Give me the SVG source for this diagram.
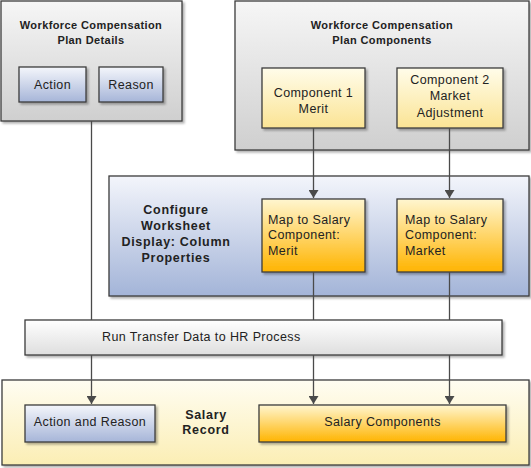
<svg xmlns="http://www.w3.org/2000/svg" width="531" height="468" viewBox="0 0 531 468">
<defs>
<linearGradient id="gGray" x1="0" y1="0" x2="0" y2="1"><stop offset="0" stop-color="#f6f6f6"/><stop offset="1" stop-color="#cfcfcf"/></linearGradient>
<linearGradient id="gBlue" x1="0" y1="0" x2="0" y2="1"><stop offset="0" stop-color="#f4f6fb"/><stop offset="1" stop-color="#a6b5d8"/></linearGradient>
<linearGradient id="gBlueBig" x1="0" y1="0" x2="0" y2="1"><stop offset="0" stop-color="#f3f5fb"/><stop offset="1" stop-color="#a3b4d8"/></linearGradient>
<linearGradient id="gLtYellow" x1="0" y1="0" x2="0" y2="1"><stop offset="0" stop-color="#fffcea"/><stop offset="1" stop-color="#fbe494"/></linearGradient>
<linearGradient id="gOrange" x1="0" y1="0" x2="0" y2="1"><stop offset="0" stop-color="#fff6d0"/><stop offset="1" stop-color="#ffb400"/></linearGradient>
<linearGradient id="gWhite" x1="0" y1="0" x2="0" y2="1"><stop offset="0" stop-color="#ffffff"/><stop offset="1" stop-color="#dedede"/></linearGradient>
<linearGradient id="gCream" x1="0" y1="0" x2="0" y2="1"><stop offset="0" stop-color="#fffdf2"/><stop offset="1" stop-color="#fbeeb4"/></linearGradient>
<filter id="sh" x="-10%" y="-10%" width="130%" height="140%"><feDropShadow dx="2" dy="2" stdDeviation="1.2" flood-color="#000" flood-opacity="0.3"/></filter>
<marker id="arr" markerWidth="10" markerHeight="10" refX="8" refY="5" orient="auto" markerUnits="userSpaceOnUse"><path d="M0,0 L8,5 L0,10 Z" fill="#4a4a4a"/></marker>
</defs>
<style>
.box{stroke:#3c3c3c;stroke-width:1.3;filter:url(#sh)}
.t{font-family:"Liberation Sans",Arial,sans-serif;font-size:12.5px;fill:#222;letter-spacing:0.4px}
.b{font-family:"Liberation Sans",Arial,sans-serif;font-size:11px;font-weight:bold;fill:#222;letter-spacing:0.4px}
.bl{font-family:"Liberation Sans",Arial,sans-serif;font-size:12.5px;font-weight:bold;fill:#222;letter-spacing:0.7px}
.c{stroke:#4a4a4a;stroke-width:1.3;fill:none}
</style>
<g id="planDetails">
<rect class="box" x="1" y="1" width="181" height="120" fill="url(#gGray)"/>
<text class="b" x="91" y="29" text-anchor="middle">Workforce Compensation</text>
<text class="b" x="91" y="44" text-anchor="middle">Plan Details</text>
</g>
<g id="action"><rect class="box" x="19" y="67" width="67" height="35" fill="url(#gBlue)"/><text class="t" x="52.5" y="89" text-anchor="middle">Action</text></g>
<g id="reason"><rect class="box" x="99" y="67" width="64" height="35" fill="url(#gBlue)"/><text class="t" x="131" y="89" text-anchor="middle">Reason</text></g>
<g id="planComponents">
<rect class="box" x="235" y="1" width="294" height="149" fill="url(#gGray)"/>
<text class="b" x="382" y="29" text-anchor="middle">Workforce Compensation</text>
<text class="b" x="382" y="44" text-anchor="middle">Plan Components</text>
</g>
<g id="comp1"><rect class="box" x="262" y="68" width="103" height="60" fill="url(#gLtYellow)"/><text class="t" x="313.5" y="97" text-anchor="middle">Component 1</text><text class="t" x="313.5" y="113" text-anchor="middle">Merit</text></g>
<g id="comp2"><rect class="box" x="397" y="68" width="106" height="60" fill="url(#gLtYellow)"/><text class="t" x="450" y="84" text-anchor="middle">Component 2</text><text class="t" x="450" y="100" text-anchor="middle">Market</text><text class="t" x="450" y="117" text-anchor="middle">Adjustment</text></g>
<g id="configure">
<rect class="box" x="109" y="176" width="420" height="120" fill="url(#gBlueBig)"/>
<text class="bl" x="176" y="214" text-anchor="middle">Configure</text>
<text class="bl" x="176" y="230" text-anchor="middle">Worksheet</text>
<text class="bl" x="176" y="246" text-anchor="middle">Display: Column</text>
<text class="bl" x="176" y="262" text-anchor="middle">Properties</text>
</g>
<g id="mapMerit"><rect class="box" x="262" y="199" width="103" height="73" fill="url(#gOrange)"/><text class="t" x="268" y="224">Map to Salary</text><text class="t" x="268" y="239">Component:</text><text class="t" x="268" y="255">Merit</text></g>
<g id="mapMarket"><rect class="box" x="397" y="199" width="106" height="73" fill="url(#gOrange)"/><text class="t" x="405" y="224">Map to Salary</text><text class="t" x="405" y="239">Component:</text><text class="t" x="405" y="255">Market</text></g>
<g id="runTransfer"><rect class="box" x="25" y="320" width="477" height="35" fill="url(#gWhite)"/><text class="t" x="102" y="341">Run Transfer Data to HR Process</text></g>
<g id="salaryRecord">
<rect class="box" x="2" y="380" width="527" height="85" fill="url(#gCream)"/>
<text class="bl" x="206" y="419" text-anchor="middle">Salary</text>
<text class="bl" x="206" y="434" text-anchor="middle">Record</text>
</g>
<g id="actionReason"><rect class="box" x="25" y="405" width="130" height="37" fill="url(#gBlue)"/><text class="t" x="90" y="426" text-anchor="middle">Action and Reason</text></g>
<g id="salaryComponents"><rect class="box" x="259" y="405" width="247" height="37" fill="url(#gOrange)"/><text class="t" x="382.5" y="426" text-anchor="middle">Salary Components</text></g>
<g id="connectors">
<line class="c" x1="91.5" y1="121" x2="91.5" y2="320"/>
<line class="c" x1="313.5" y1="128" x2="313.5" y2="198" marker-end="url(#arr)"/>
<line class="c" x1="449.5" y1="128" x2="449.5" y2="198" marker-end="url(#arr)"/>
<line class="c" x1="313.5" y1="272" x2="313.5" y2="320"/>
<line class="c" x1="449.5" y1="272" x2="449.5" y2="320"/>
<line class="c" x1="91.5" y1="355" x2="91.5" y2="404" marker-end="url(#arr)"/>
<line class="c" x1="313.5" y1="355" x2="313.5" y2="404" marker-end="url(#arr)"/>
<line class="c" x1="449.5" y1="355" x2="449.5" y2="404" marker-end="url(#arr)"/>
</g>
</svg>
